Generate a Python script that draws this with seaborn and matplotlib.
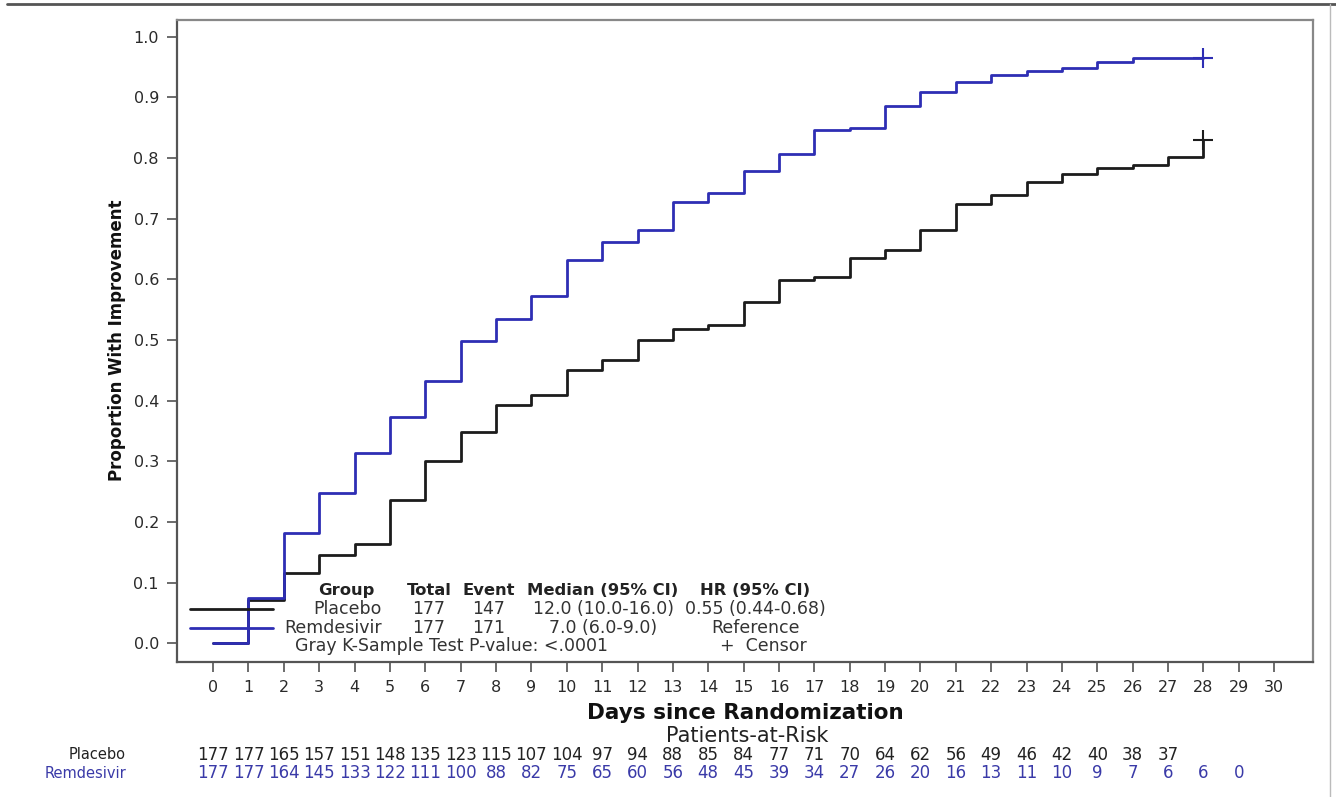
import numpy as np
import pandas as pd
import matplotlib
matplotlib.use("Agg")
import matplotlib.pyplot as plt
from matplotlib.lines import Line2D
from matplotlib.transforms import blended_transform_factory
import seaborn as sns

# ---------------- data ----------------
days = list(range(0, 29))
placebo = [0.0, 0.071, 0.115, 0.145, 0.164, 0.236, 0.300, 0.348, 0.392, 0.409,
           0.451, 0.467, 0.500, 0.518, 0.524, 0.562, 0.599, 0.603, 0.635, 0.649,
           0.681, 0.724, 0.739, 0.760, 0.773, 0.784, 0.789, 0.801, 0.829]
remdesivir = [0.0, 0.074, 0.181, 0.247, 0.313, 0.373, 0.433, 0.499, 0.535, 0.573,
              0.631, 0.661, 0.681, 0.727, 0.742, 0.778, 0.806, 0.846, 0.850, 0.885,
              0.909, 0.925, 0.937, 0.943, 0.949, 0.959, 0.965, 0.965, 0.965]
censor_day = 28
censor_placebo = 0.829
censor_remdesivir = 0.965

groups = ["Placebo", "Remdesivir"]
risk_placebo = [177, 177, 165, 157, 151, 148, 135, 123, 115, 107, 104, 97, 94, 88,
                85, 84, 77, 71, 70, 64, 62, 56, 49, 46, 42, 40, 38, 37]
risk_remdesivir = [177, 177, 164, 145, 133, 122, 111, 100, 88, 82, 75, 65, 60, 56,
                   48, 45, 39, 34, 27, 26, 20, 16, 13, 11, 10, 9, 7, 6, 6, 0]
x_ticks = list(range(0, 31))
y_ticks = [round(0.1 * i, 1) for i in range(11)]

legend_header = ["Group", "Total", "Event", "Median (95% CI)", "HR (95% CI)"]
legend_placebo = ["Placebo", "177", "147", "12.0 (10.0-16.0)", "0.55 (0.44-0.68)"]
legend_remdesivir = ["Remdesivir", "177", "171", "7.0 (6.0-9.0)", "Reference"]
test_text = "Gray K-Sample Test P-value: <.0001"

# ---------------- styling ----------------
BLACK = "#1c1c1c"
BLUE = "#2e2eb4"
RISK_BLUE = "#3a3aa8"

sns.set_theme(style="white")
plt.rcParams["font.family"] = ["DejaVu Sans"]

fig = plt.figure(figsize=(13.36, 7.97), dpi=100)
ax = fig.add_axes([0.1325, 0.1694, 0.8503, 0.8055])

df = pd.DataFrame({
    "day": days * 2,
    "prop": placebo + remdesivir,
    "group": ["Placebo"] * len(days) + ["Remdesivir"] * len(days),
})
sns.lineplot(data=df, x="day", y="prop", hue="group", palette={"Placebo": BLACK, "Remdesivir": BLUE},
             drawstyle="steps-post", estimator=None, legend=False, linewidth=2.0, ax=ax)

cdf = pd.DataFrame({"day": [censor_day, censor_day],
                    "prop": [censor_placebo, censor_remdesivir],
                    "group": groups})
for g, c in zip(groups, [BLACK, BLUE]):
    sub = cdf[cdf.group == g]
    ax.plot(sub["day"], sub["prop"], linestyle="none", marker="+", markersize=15,
            markeredgewidth=1.5, color=c)

ax.set_xlim(-1.02, 31.1)
ax.set_ylim(-0.031, 1.0275)
ax.set_xticks(x_ticks)
ax.set_xticklabels([str(t) for t in x_ticks], fontsize=11.5, color="#2a2a2a")
ax.set_yticks(y_ticks)
ax.set_yticklabels([f"{t:.1f}" for t in y_ticks], fontsize=11.5, color="#2a2a2a")
ax.tick_params(axis="both", direction="out", length=7, width=1.1, color="#444444",
               bottom=True, left=True, pad=6)
ax.set_xlabel("")
ax.set_ylabel("")
for side, sp in ax.spines.items():
    sp.set_visible(True)
    sp.set_color("#555555" if side in ("left", "bottom") else "#888888")
    sp.set_linewidth(1.6)

# axis titles
fig.text(0.5576, 0.1054, "Days since Randomization", ha="center", va="center",
         fontsize=15.5, fontweight="bold", color="#111111")
fig.text(0.0873, 0.5734, "Proportion With Improvement", ha="center", va="center",
         rotation=90, fontsize=12, fontweight="bold", color="#111111")

# inset legend (axes coords)
ax.add_line(Line2D([0.0114, 0.0845], [0.0826, 0.0826], transform=ax.transAxes, color=BLACK, lw=2.0))
ax.add_line(Line2D([0.0114, 0.0845], [0.053, 0.053], transform=ax.transAxes, color=BLUE, lw=2.0))
col_x = [0.1488, 0.2218, 0.2746, 0.375, 0.5088]
for x, t in zip(col_x, legend_header):
    ax.text(x, 0.112, t, transform=ax.transAxes, ha="center", va="center",
            fontsize=11.8, fontweight="bold", color="#222222")
for row, yy in ((legend_placebo, 0.0826), (legend_remdesivir, 0.053)):
    for i, (x, t) in enumerate(zip(col_x, row)):
        if i == 0:
            ax.text(0.1805, yy, t, transform=ax.transAxes, ha="right", va="center",
                    fontsize=12.5, color="#333333")
        else:
            ax.text(x, yy, t, transform=ax.transAxes, ha="center", va="center",
                    fontsize=12.5, color="#333333")
ax.text(0.1039, 0.025, test_text, transform=ax.transAxes, ha="left", va="center",
        fontsize=12.5, color="#333333")
ax.text(0.478, 0.025, "+  Censor", transform=ax.transAxes, ha="left", va="center",
        fontsize=12.5, color="#333333")

# patients at risk
fig.text(0.5591, 0.0765, "Patients-at-Risk", ha="center", va="center", fontsize=15, color="#222222")
tr = blended_transform_factory(ax.transData, fig.transFigure)
fig.text(0.0943, 0.0527, "Placebo", ha="right", va="center", fontsize=10.5, color="#222222")
fig.text(0.0943, 0.0301, "Remdesivir", ha="right", va="center", fontsize=10.5, color=RISK_BLUE)
for i, n in enumerate(risk_placebo):
    ax.text(i, 0.0527, str(n), transform=tr, ha="center", va="center", fontsize=12,
            color="#222222", clip_on=False)
for i, n in enumerate(risk_remdesivir):
    ax.text(i, 0.0301, str(n), transform=tr, ha="center", va="center", fontsize=12,
            color=RISK_BLUE, clip_on=False)

# outer frame lines
fig.add_artist(Line2D([0.005, 1.0], [0.995, 0.995], transform=fig.transFigure, color="#555555", lw=2.0))
fig.add_artist(Line2D([0.9955, 0.9955], [0.0, 0.995], transform=fig.transFigure, color="#bbbbbb", lw=1.0))

fig.savefig("out.png", dpi=100, facecolor="white")
